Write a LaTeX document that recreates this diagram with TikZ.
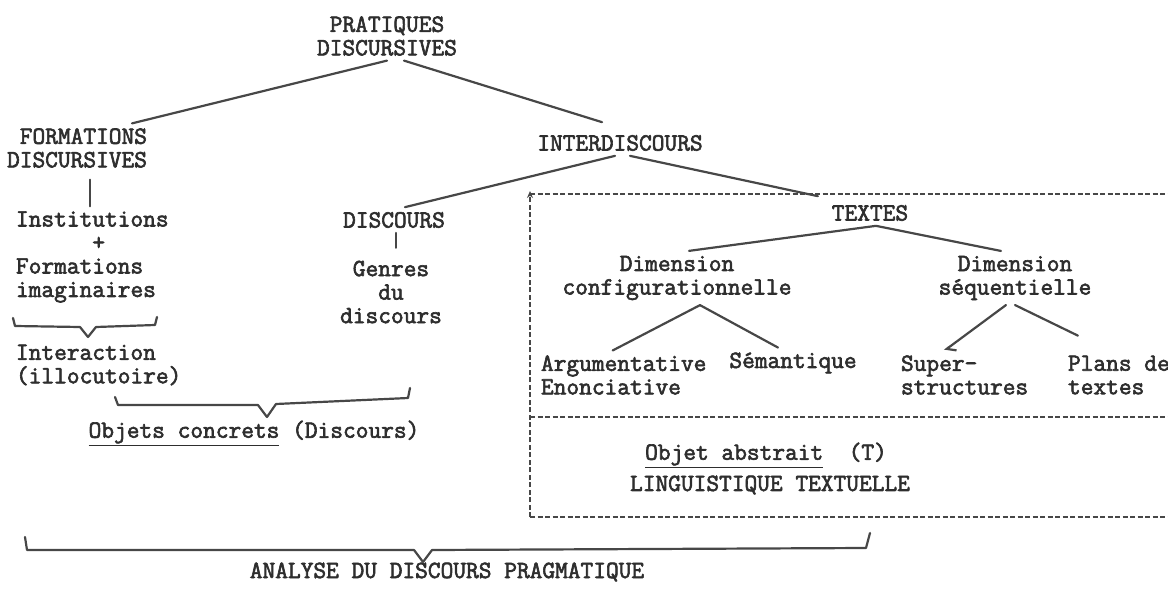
\documentclass[tikz,border=0pt]{standalone}
\usepackage{fontspec}
\usetikzlibrary{arrows.meta}

\newfontfamily\typew{Latin Modern Mono}[FakeBold=2.5]

\tikzset{
  lbl/.style={font=\typew\fontsize{24.7}{23.5}\selectfont, text=black!82, inner sep=0pt, outer sep=5pt},
  branch/.style={line width=2.2pt, draw=black!72, line cap=round},
  brace/.style={line width=2.2pt, draw=black!72, line join=round, line cap=round},
  frame/.style={line width=2pt, draw=black!72, dash pattern=on 5pt off 2.5pt}
}

\begin{document}
\begin{tikzpicture}[x=1pt,y=-1pt]
            \useasboundingbox (0,0) rectangle (1168,589);
            
            \node[lbl,align=center] (pd) at (387,36) {PRATIQUES\\DISCURSIVES};
            \node[lbl,align=right,anchor=east] (fd) at (152,148) {FORMATIONS\\DISCURSIVES};
            \node[lbl] (inter) at (620,143) {INTERDISCOURS};
            
            \node[lbl,align=left,anchor=west] (inst) at (11,257) {Institutions\\\phantom{xxxxxx}+\\Formations\\imaginaires};
            \node[lbl,align=left,anchor=west] (ia) at (11,365) {Interaction\\(illocutoire)};
            \node[lbl] (oc) at (254,433) {\underline{Objets concrets} (Discours)};
            
            \node[lbl] (disc) at (394,220) {DISCOURS};
            \node[lbl,align=center] (gd) at (391,292) {Genres\\du\\discours};
            
            \node[lbl] (textes) at (870,213) {TEXTES};
            \node[lbl,align=center] (dc) at (677,278) {Dimension\\configurationnelle};
            \node[lbl,align=center] (ds) at (1015,278) {Dimension\\séquentielle};
            \node[lbl,align=left,anchor=west] (ae) at (536,375) {Argumentative\\Enonciative};
            \node[lbl] (sem) at (793,363) {Sémantique};
            \node[lbl,align=left,anchor=west] (ss) at (896,375) {Super-\\structures};
            \node[lbl,align=left,anchor=west] (pt) at (1063,375) {Plans de\\textes};
            
            \node[lbl] (oa) at (766,455) {\underline{Objet abstrait}\ \ (T)};
            \node[lbl] (lt) at (770,485) {LINGUISTIQUE TEXTUELLE};
            \node[lbl] (adp) at (447,572) {ANALYSE DU DISCOURS PRAGMATIQUE};
            
            \draw[branch] (pd.south) -- ([xshift=-20pt]fd.north east);
            \draw[branch] ([xshift=17pt]pd.south) -- ([shift={(-18,-8)}]inter.north);
            \draw[branch,shorten <=7pt] ([xshift=13pt]fd.south) -- ([xshift=13pt]fd.south |- inst.north);
            \draw[branch] ([xshift=-5pt]inter.south) -- ([xshift=11pt]disc.north);
            \draw[branch] ([xshift=10pt]inter.south) -- ([shift={(-9,-4)}]textes.north west);
            \draw[branch] ([xshift=2pt]disc.south) -- ([shift={(5,-8)}]gd.north);
            
            \draw[branch] ([xshift=6pt]textes.south) -- ([xshift=12pt]dc.north);
            \draw[branch] ([xshift=6pt]textes.south) -- ([xshift=-14pt]ds.north);
            \draw[branch] ([xshift=23pt]dc.south) -- ([xshift=-11pt]ae.north);
            \draw[branch] ([xshift=23pt]dc.south) -- ([xshift=-15pt]sem.north);
            \draw[branch,-{Straight Barb[left,length=7pt]}] ([xshift=-9pt]ds.south) -- ([xshift=-20pt]ss.north);
            \draw[branch] (ds.south) -- ([shift={(-41,-15)}]pt.north);
            
            \draw[frame] (530,194) -- (1168,194);
            \draw[frame] (530,417) -- (1168,417);
            \draw[frame] (530,517) -- (1168,517);
            \draw[frame,-{Stealth[length=7pt,width=6pt]}] (530,517) -- (530,191);
            
            \draw[brace] (13,318) -- (15,326) -- (80,327) -- (88,337) -- (96,327) -- (155,325) -- (157,317);
            \draw[brace] (115,397) -- (118,405) -- (258,405) -- (267,417) -- (276,404) -- (408,398) -- (410,388);
            \draw[brace] (25,537) -- (27,550) -- (414,550) -- (423,562) -- (432,550) -- (866,548) -- (870,533);
            
\end{tikzpicture}
\end{document}
